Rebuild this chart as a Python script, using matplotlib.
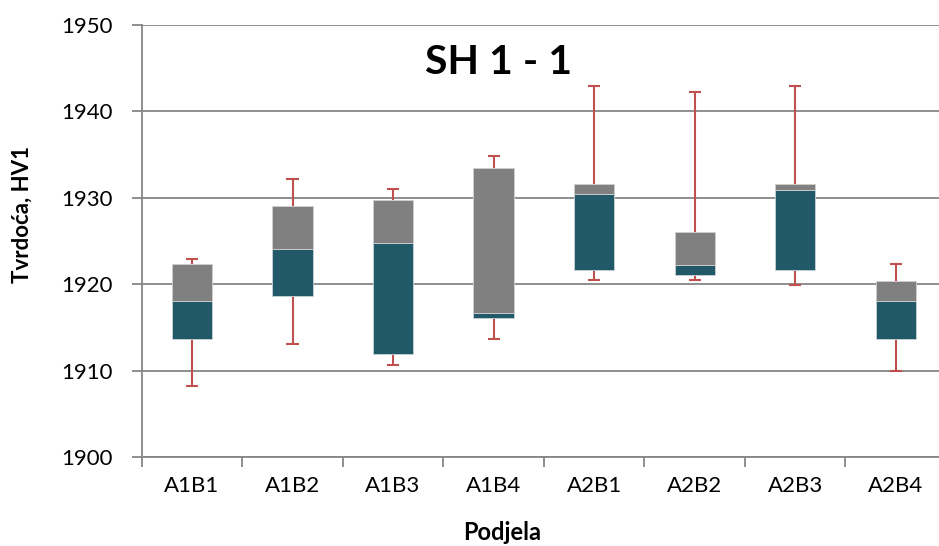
import matplotlib.pyplot as plt
import numpy as np

plt.rcParams['font.family'] = ['Lato', 'DejaVu Sans']

categories = ['A1B1', 'A1B2', 'A1B3', 'A1B4', 'A2B1', 'A2B2', 'A2B3', 'A2B4']
minimum = [1908.2, 1913.1, 1910.6, 1913.6, 1920.5, 1920.5, 1919.9, 1910.0]
q1 = [1913.6, 1918.6, 1911.9, 1916.1, 1921.7, 1921.1, 1921.7, 1913.7]
median = [1918.0, 1924.1, 1924.8, 1916.7, 1930.4, 1922.2, 1930.9, 1918.0]
q3 = [1922.3, 1929.1, 1929.7, 1933.5, 1931.6, 1926.0, 1931.6, 1920.4]
maximum = [1922.9, 1932.2, 1931.0, 1934.8, 1942.9, 1942.3, 1942.9, 1922.3]

teal = '#215968'
grey = '#808080'
red = '#C0504D'
axis_col = '#868686'

W, H = 939, 546
fig = plt.figure(figsize=(W / 100, H / 100), dpi=100)
ax = fig.add_axes([141.7 / W, 1 - 457 / H, (946 - 141.7) / W, (457 - 25) / H])

x = np.arange(len(categories))
lower = np.array(median) - np.array(q1)
upper = np.array(q3) - np.array(median)

ax.bar(x, lower, 0.4, bottom=q1, color=teal, edgecolor='#c8d3d7', linewidth=0.6, zorder=3)
ax.bar(x, upper, 0.4, bottom=median, color=grey, edgecolor='#d0d0d0', linewidth=0.6, zorder=3)

# whiskers: line from box edge to min/max, cap only at the far end
cap = 0.06
ax.vlines(x, minimum, q1, color=red, linewidth=1.5, zorder=2)
ax.vlines(x, q3, maximum, color=red, linewidth=1.5, zorder=2)
ax.hlines(minimum, x - cap, x + cap, color=red, linewidth=1.5, zorder=2)
ax.hlines(maximum, x - cap, x + cap, color=red, linewidth=1.5, zorder=2)

ax.set_ylim(1900, 1950)
ax.set_xlim(-0.5, len(categories) - 0.5)
ax.set_yticks(np.arange(1900, 1951, 10))
ax.yaxis.grid(True, color=axis_col, linewidth=1.3, zorder=0)

ax.set_xticks(x)
ax.set_xticklabels(categories, fontsize=16)
ax.set_xticks(np.arange(-0.5, len(categories)), minor=True)
ax.tick_params(axis='x', which='major', length=0, pad=14)
ax.tick_params(axis='x', which='minor', length=7, width=1.3, color=axis_col)
ax.tick_params(axis='y', length=7, width=1.3, color=axis_col, labelsize=16, pad=14)

for s in ['top', 'right']:
    ax.spines[s].set_visible(False)
for s in ['left', 'bottom']:
    ax.spines[s].set_color(axis_col)
    ax.spines[s].set_linewidth(1.3)

fig.text(22 / W, 1 - 215 / H, 'Tvrdoća, HV1', rotation=90, ha='center', va='center',
         fontsize=16, fontweight='bold')
fig.text(502 / W, 1 - 533 / H, 'Podjela', ha='center', va='center',
         fontsize=17, fontweight='bold')
fig.text(499 / W, 1 - 62 / H, 'SH 1 - 1', ha='center', va='center',
         fontsize=29.5, fontweight='bold')

fig.savefig('out.png', dpi=100)
